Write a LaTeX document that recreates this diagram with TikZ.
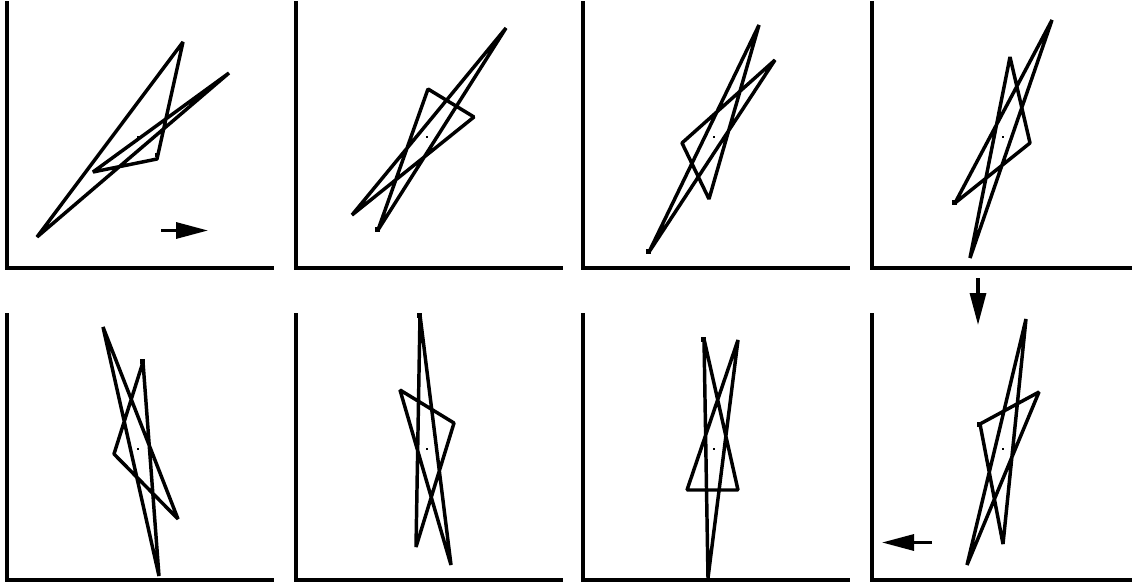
\documentclass[tikz,border=0pt]{standalone}
\usetikzlibrary{arrows.meta}

\begin{document}
\begin{tikzpicture}[
    x=0.75pt,y=0.75pt,
    axis/.style={line width=2.6pt,line cap=rect},
    orbit/.style={line width=2.6pt,line join=bevel},
    marker/.style={fill=black},
    flow/.style={line width=2.4pt,-{Triangle[length=24pt,width=12pt]}}
]
\useasboundingbox (0,0) rectangle (1132,583);

% ---- top row ----
\begin{scope}[shift={(138,446)}]
  \draw[axis] (-131,134) |- (134,-131);
  \draw[orbit] (19,-22) -- (-45,-35) -- (91,64) -- (-101,-100) -- (45,95) -- cycle;
  \fill[marker] (17,-20) rectangle ++(4,4);
  \fill[marker] (-1,-1) rectangle (1,1);
\end{scope}

\begin{scope}[shift={(427,446)}]
  \draw[axis] (-131,134) |- (134,-131);
  \draw[orbit] (-49,-93) -- (79,109) -- (-75,-78) -- (47,20) -- (1,48) -- cycle;
  \fill[marker] (-52,-95) rectangle ++(5,5);
  \fill[marker] (-1,-1) rectangle (1,1);
\end{scope}

\begin{scope}[shift={(714,446)}]
  \draw[axis] (-131,134) |- (134,-131);
  \draw[orbit] (-65,-115) -- (61,77) -- (-32,-6) -- (-5,-62) -- (45,112) -- cycle;
  \fill[marker] (-68,-117) rectangle ++(5,5);
  \fill[marker] (-1,-1) rectangle (1,1);
\end{scope}

\begin{scope}[shift={(1003,446)}]
  \draw[axis] (-131,134) |- (134,-131);
  \draw[orbit] (-48,-66) -- (27,-6) -- (7,80) -- (-33,-121) -- (49,117) -- cycle;
  \fill[marker] (-51,-68) rectangle ++(5,5);
  \fill[marker] (-1,-1) rectangle (1,1);
\end{scope}

% ---- bottom row ----
\begin{scope}[shift={(138,134)}]
  \draw[axis] (-131,134) |- (134,-131);
  \draw[orbit] (5,87) -- (-24,-5) -- (40,-70) -- (-35,122) -- (21,-127) -- cycle;
  \fill[marker] (2,85) rectangle ++(5,5);
  \fill[marker] (-1,-1) rectangle (1,1);
\end{scope}

\begin{scope}[shift={(427,134)}]
  \draw[axis] (-131,134) |- (134,-131);
  \draw[orbit] (-7,134) -- (24,-116) -- (-27,59) -- (27,26) -- (-11,-98) -- cycle;
  \fill[marker] (-10,131) rectangle ++(5,5);
  \fill[marker] (-1,-1) rectangle (1,1);
\end{scope}

\begin{scope}[shift={(714,134)}]
  \draw[axis] (-131,134) |- (134,-131);
  \draw[orbit] (-10,110) -- (24,-41) -- (-27,-41) -- (24,109) -- (-6,-129) -- cycle;
  \fill[marker] (-13,107) rectangle ++(5,5);
  \fill[marker] (-1,-1) rectangle (1,1);
\end{scope}

\begin{scope}[shift={(1003,134)}]
  \draw[axis] (-131,134) |- (134,-131);
  \draw[orbit] (-23,25) -- (36,57) -- (-36,-116) -- (23,130) -- (0,-95) -- cycle;
  \fill[marker] (-26,22) rectangle ++(5,5);
  \fill[marker] (-1,-1) rectangle (1,1);
\end{scope}

% direction arrows
\coordinate (rightA) at (161,352.5);
\coordinate (rightB) at (208,352.5);
\coordinate (downA)  at (978,305);
\coordinate (downB)  at (978,258);
\coordinate (leftA)  at (932,40.5);
\coordinate (leftB)  at (882,40.5);
\draw[flow] (rightA) -- (rightB);
\draw[flow] (downA) -- (downB);
\draw[flow] (leftA) -- (leftB);

\end{tikzpicture}
\end{document}
